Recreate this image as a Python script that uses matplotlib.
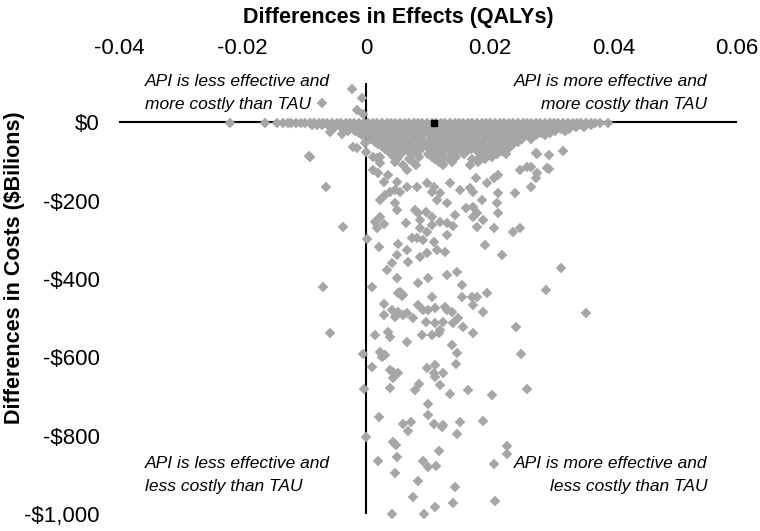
import matplotlib
matplotlib.use("Agg")
import matplotlib.pyplot as plt
from matplotlib.ticker import FuncFormatter

plt.rcParams['font.family'] = ['Liberation Sans', 'DejaVu Sans']

# ---- data: incremental effects (QALYs) and incremental costs ($ billions) ----
# dense band of simulations just below zero cost, one list of effects per cost level
band_costs = [-2, -7, -12, -17, -22, -28, -33, -44, -50, -56, -62, -68, -74, -80, -88, -95,
              -102, -110]
band_row0 = [-0.0221, -0.0164, -0.0145, -0.0134, -0.0127, -0.0121, -0.0113, -0.0106, -0.0099,
             -0.0091, -0.0085, -0.0077, -0.0070, -0.0063, -0.0055, -0.0048, -0.0041, -0.0033,
             -0.0026, -0.0019, -0.0011, -0.0004, 0.0003, 0.0011, 0.0018, 0.0025, 0.0033, 0.0040,
             0.0047, 0.0055, 0.0062, 0.0069, 0.0077, 0.0084, 0.0091, 0.0099, 0.0106, 0.0113,
             0.0121, 0.0128, 0.0135, 0.0143, 0.0150, 0.0157, 0.0165, 0.0172, 0.0179, 0.0187,
             0.0194, 0.0201, 0.0209, 0.0216, 0.0223, 0.0231, 0.0238, 0.0245, 0.0253, 0.0260,
             0.0267, 0.0275, 0.0282, 0.0289, 0.0297, 0.0304, 0.0311, 0.0319, 0.0326, 0.0334,
             0.0341, 0.0348, 0.0356, 0.0363, 0.0371, 0.0378, 0.0392]
band_row0b = [-0.0088, -0.0079, -0.0071, -0.0062, -0.0052, -0.0044, -0.0036, -0.0027, -0.0017,
              -0.0008, 0.0001, 0.0009, 0.0019, 0.0028, 0.0036, 0.0045, 0.0054, 0.0063, 0.0071,
              0.0080, 0.0089, 0.0098, 0.0107, 0.0115, 0.0124, 0.0133, 0.0142, 0.0151, 0.0160,
              0.0168, 0.0177, 0.0186, 0.0195, 0.0204, 0.0212, 0.0221, 0.0230, 0.0239, 0.0248,
              0.0257, 0.0265, 0.0274, 0.0283, 0.0292, 0.0301, 0.0310, 0.0318, 0.0327, 0.0336,
              0.0345, 0.0354, 0.0364]
band_row1 = [-0.0050, -0.0041, -0.0031, -0.0022, -0.0012, -0.0003, 0.0007, 0.0016, 0.0026,
             0.0035, 0.0045, 0.0054, 0.0064, 0.0073, 0.0083, 0.0092, 0.0102, 0.0111, 0.0121,
             0.0130, 0.0140, 0.0149, 0.0159, 0.0168, 0.0178, 0.0187, 0.0197, 0.0206, 0.0216,
             0.0225, 0.0235, 0.0244, 0.0254, 0.0263, 0.0273, 0.0282, 0.0292, 0.0301, 0.0311,
             0.0320, 0.0330, 0.0340, 0.0352]
band_row1b = [-0.0036, -0.0026, -0.0017, -0.0007, 0.0002, 0.0012, 0.0021, 0.0031, 0.0040,
              0.0050, 0.0059, 0.0069, 0.0078, 0.0088, 0.0097, 0.0107, 0.0116, 0.0126, 0.0135,
              0.0145, 0.0154, 0.0164, 0.0173, 0.0183, 0.0192, 0.0202, 0.0211, 0.0221, 0.0230,
              0.0240, 0.0249, 0.0259, 0.0268, 0.0278, 0.0287, 0.0297, 0.0306, 0.0316, 0.0328]
band_row2 = [-0.0029, -0.0018, -0.0008, 0.0003, 0.0013, 0.0024, 0.0034, 0.0045, 0.0055, 0.0066,
             0.0076, 0.0087, 0.0097, 0.0108, 0.0118, 0.0129, 0.0139, 0.0150, 0.0160, 0.0171,
             0.0181, 0.0192, 0.0202, 0.0213, 0.0223, 0.0234, 0.0244, 0.0255, 0.0265, 0.0276,
             0.0290, 0.0306, 0.0322]
band_row2b = [-0.0012, 0.0000, 0.0010, 0.0021, 0.0031, 0.0042, 0.0052, 0.0063, 0.0073, 0.0084,
              0.0094, 0.0105, 0.0115, 0.0126, 0.0136, 0.0147, 0.0157, 0.0168, 0.0178, 0.0189,
              0.0199, 0.0210, 0.0220, 0.0231, 0.0241, 0.0252, 0.0262, 0.0283, 0.0298]
band_row3 = [-0.0006, 0.0005, 0.0017, 0.0028, 0.0040, 0.0051, 0.0063, 0.0080, 0.0092, 0.0103,
             0.0115, 0.0126, 0.0138, 0.0149, 0.0161, 0.0172, 0.0190, 0.0201, 0.0213, 0.0224,
             0.0236, 0.0247, 0.0259, 0.0275, 0.0290]
band_row4 = [0.0008, 0.0021, 0.0034, 0.0047, 0.0065, 0.0078, 0.0091, 0.0110, 0.0123, 0.0136,
             0.0149, 0.0162, 0.0180, 0.0193, 0.0206, 0.0219, 0.0236, 0.0252, 0.0266]
band_row4b = [0.0014, 0.0027, 0.0041, 0.0056, 0.0072, 0.0085, 0.0100, 0.0117, 0.0130, 0.0143,
              0.0156, 0.0170, 0.0187, 0.0200, 0.0213, 0.0228, 0.0245]
band_row5 = [0.0019, 0.0033, 0.0052, 0.0066, 0.0085, 0.0099, 0.0113, 0.0127, 0.0145, 0.0159,
             0.0173, 0.0187, 0.0201, 0.0220, 0.0238]
band_row5b = [0.0025, 0.0040, 0.0058, 0.0076, 0.0092, 0.0106, 0.0120, 0.0137, 0.0152, 0.0166,
              0.0180, 0.0194, 0.0210, 0.0226]
band_row6 = [0.0030, 0.0045, 0.0062, 0.0088, 0.0104, 0.0119, 0.0134, 0.0150, 0.0170, 0.0185,
             0.0200, 0.0216, 0.0230]
band_row6b = [0.0036, 0.0052, 0.0068, 0.0082, 0.0111, 0.0127, 0.0145, 0.0163, 0.0180,
              0.0205, 0.0220]
band_row7 = [0.0040, 0.0057, 0.0075, 0.0100, 0.0118, 0.0140, 0.0158, 0.0194, 0.0212, 0.0226]
band_row7b = [0.0045, 0.0085, 0.0106, 0.0125, 0.0146, 0.0184, 0.0203]
band_row8 = [0.0050, 0.0070, 0.0112, 0.0132, 0.0172, 0.0192]
band_row8b = [0.0076, 0.0118, 0.0139, 0.0181]
band_row9 = [0.0080, 0.0125, 0.0168]
band_rows = [band_row0, band_row0b, band_row1, band_row1b, band_row2, band_row2b, band_row3,
             band_row4, band_row4b, band_row5, band_row5b, band_row6, band_row6b, band_row7,
             band_row7b, band_row8, band_row8b, band_row9]

# scattered simulations
cloud_eff = [
    -0.0023, -0.0006, -0.0071, -0.0015, -0.0005, -0.0058, -0.0015, -0.0002, -0.0091, 0.0011,
    0.0023, -0.0039, -0.0021, 0.0000, 0.0023, -0.0092, -0.0065, -0.0037, 0.0002, -0.0070,
    0.0010, 0.0021, 0.0015, 0.0023, 0.0018, 0.0028, 0.0065, 0.0052, 0.0066, 0.0050,
    0.0034, 0.0042, 0.0068, 0.0050, 0.0100, 0.0055, 0.0060, 0.0084, 0.0107, 0.0131,
    0.0147, 0.0155, 0.0172, 0.0180, 0.0196, 0.0220, 0.0193, 0.0238, 0.0249, 0.0206,
    0.0180, 0.0141, 0.0131, 0.0120, 0.0107, 0.0107, 0.0096, 0.0084, 0.0079, 0.0087,
    0.0087, 0.0099, 0.0083, 0.0074, 0.0092, 0.0109, 0.0131, 0.0128, 0.0115, 0.0099,
    0.0087, 0.0144, 0.0162, 0.0173, 0.0180, 0.0188, 0.0173, 0.0189, 0.0212, 0.0214,
    0.0214, 0.0196, 0.0214, 0.0206, 0.0177, 0.0168, 0.0173, 0.0152, 0.0136, 0.0120,
    0.0107, 0.0109, 0.0099, 0.0083, 0.0066, 0.0055, 0.0047, 0.0039, 0.0031, 0.0023,
    0.0047, 0.0050, 0.0028, 0.0036, 0.0050, 0.0066, 0.0060, 0.0047, 0.0018, 0.0011,
    0.0019, 0.0241, 0.0249, 0.0261, 0.0266, 0.0277, 0.0274, 0.0293, 0.0291, 0.0131,
    0.0115, 0.0295, 0.0319, 0.0266, 0.0295, 0.0274, 0.0316, 0.0355, 0.0277,
    -0.0058, -0.0005, -0.0003, 0.0010, 0.0015, 0.0028, 0.0029, 0.0036, 0.0039, 0.0042,
    0.0052, 0.0047, 0.0052, 0.0058, 0.0060, 0.0066, 0.0066, 0.0076, 0.0084, 0.0091,
    0.0092, 0.0096, 0.0100, 0.0107, 0.0112, 0.0112, 0.0117, 0.0120, 0.0128, 0.0131,
    0.0125, 0.0139, 0.0139, 0.0141, 0.0147, 0.0149, 0.0155, 0.0157, 0.0173, 0.0173,
    0.0189, 0.0023, 0.0026, 0.0031, 0.0039, 0.0044, 0.0052, 0.0044, 0.0039, 0.0079,
    0.0086, 0.0099, 0.0112, 0.0109, 0.0112, 0.0120, 0.0125, 0.0146, 0.0136, 0.0165,
    0.0204, 0.0243, 0.0251, 0.0261, 0.0100,
    0.0021, 0.0100, 0.0060, 0.0073, 0.0068, 0.0110, 0.0125, 0.0123, 0.0152, 0.0189,
    0.0147, 0.0000, 0.0044, 0.0049, 0.0228, 0.0228, 0.0118, 0.0019, 0.0050, 0.0092,
    0.0100, 0.0113, 0.0207, 0.0047, 0.0084, 0.0144, 0.0076, 0.0141, 0.0112, 0.0209,
    0.0042, 0.0094]
cloud_cost = [
    84, 61, 48, 31, 20, -26, -66, -54, -89, -89,
    -105, -31, -64, -77, -89, -87, -166, -268, -298, -421,
    -421, -319, -255, -242, -270, -260, -258, -311, -327, -339,
    -378, -360, -357, -398, -398, -434, -441, -411, -446, -390,
    -383, -416, -446, -446, -436, -339, -314, -281, -270, -270,
    -268, -265, -258, -255, -263, -242, -230, -232, -224, -250,
    -270, -281, -296, -296, -301, -306, -288, -332, -327, -334,
    -344, -237, -219, -217, -232, -199, -242, -250, -207, -181,
    -232, -156, -135, -143, -143, -168, -179, -173, -156, -181,
    -179, -166, -156, -166, -166, -179, -173, -179, -186, -199,
    -207, -224, -153, -135, -153, -122, -110, -102, -92, -122,
    -130, -181, -122, -115, -166, -130, -79, -117, -429, -207,
    -199, -84, -74, -115, -120, -143, -372, -487, -82,
    -538, -592, -681, -625, -543, -464, -492, -536, -548, -480,
    -485, -497, -436, -444, -492, -487, -561, -500, -467, -543,
    -480, -510, -480, -543, -513, -474, -538, -531, -472, -480,
    -510, -485, -569, -513, -589, -500, -446, -523, -538, -467,
    -485, -587, -599, -594, -633, -638, -640, -653, -679, -684,
    -668, -628, -620, -640, -650, -671, -640, -617, -694, -684,
    -696, -523, -592, -681, -719,
    -753, -747, -770, -765, -788, -770, -773, -778, -765, -763,
    -796, -804, -816, -824, -827, -847, -839, -865, -855, -865,
    -880, -878, -872, -895, -916, -931, -957, -972, -982, -967,
    -1000, -1000]

# base case result
base_eff = [0.0109]
base_cost = [-3]

x_ticks = [-0.04, -0.02, 0, 0.02, 0.04, 0.06]
x_tick_labels = ['-0.04', '-0.02', '0', '0.02', '0.04', '0.06']
y_ticks = [0, -200, -400, -600, -800, -1000]

W, H = 760, 531
fig = plt.figure(figsize=(W / 100, H / 100), dpi=100)
ax = fig.add_axes([119 / W, 1 - 514 / H, (737 - 119) / W, (514 - 83) / H])

gray = '#a6a6a6'
ms = 4.8
ax.axhline(0, color='black', lw=1.5, zorder=1)
ax.axvline(0, color='black', lw=1.5, zorder=1)

for cost, effs in zip(band_costs, band_rows):
    ax.plot(effs, [cost] * len(effs), ls='none', marker='D', ms=ms,
            color=gray, mec=gray, mew=0.3, zorder=2, clip_on=False)
ax.plot(cloud_eff, cloud_cost, ls='none', marker='D', ms=ms,
        color=gray, mec=gray, mew=0.3, zorder=2, clip_on=False)
ax.plot(base_eff, base_cost, ls='none', marker='s', ms=5,
        color='black', zorder=3)

ax.set_xlim(-0.04, 0.06)
ax.set_ylim(-1000, 100)
for s in ax.spines.values():
    s.set_visible(False)

ax.xaxis.tick_top()
ax.set_xticks(x_ticks)
ax.set_xticklabels(x_tick_labels)
ax.set_yticks(y_ticks)
ax.yaxis.set_major_formatter(FuncFormatter(
    lambda v, p: '$0' if v == 0 else '-${:,.0f}'.format(abs(v))))
ax.tick_params(axis='x', length=0, pad=17, labelsize=16)
ax.tick_params(axis='y', length=0, pad=14, labelsize=16)

fig.text(398 / W, 1 - 18 / H, 'Differences in Effects (QALYs)', ha='center', va='center',
         fontsize=15.5, fontweight='bold')
fig.text(15 / W, 1 - 268 / H, 'Differences in Costs ($Bilions)', ha='center', va='center',
         rotation=90, fontsize=15.5, fontweight='bold')

qfs = 12.5
fig.text(145 / W, 1 - 81 / H, 'API is less effective and', ha='left', va='center',
         fontsize=qfs, style='italic')
fig.text(145 / W, 1 - 104 / H, 'more costly than TAU', ha='left', va='center',
         fontsize=qfs, style='italic')
fig.text(707 / W, 1 - 81 / H, 'API is more effective and', ha='right', va='center',
         fontsize=qfs, style='italic')
fig.text(707 / W, 1 - 104 / H, 'more costly than TAU', ha='right', va='center',
         fontsize=qfs, style='italic')
fig.text(145 / W, 1 - 464 / H, 'API is less effective and', ha='left', va='center',
         fontsize=qfs, style='italic')
fig.text(145 / W, 1 - 486 / H, 'less costly than TAU', ha='left', va='center',
         fontsize=qfs, style='italic')
fig.text(707 / W, 1 - 464 / H, 'API is more effective and', ha='right', va='center',
         fontsize=qfs, style='italic')
fig.text(707 / W, 1 - 486 / H, 'less costly than TAU', ha='right', va='center',
         fontsize=qfs, style='italic')

fig.savefig('out.png', dpi=100)
